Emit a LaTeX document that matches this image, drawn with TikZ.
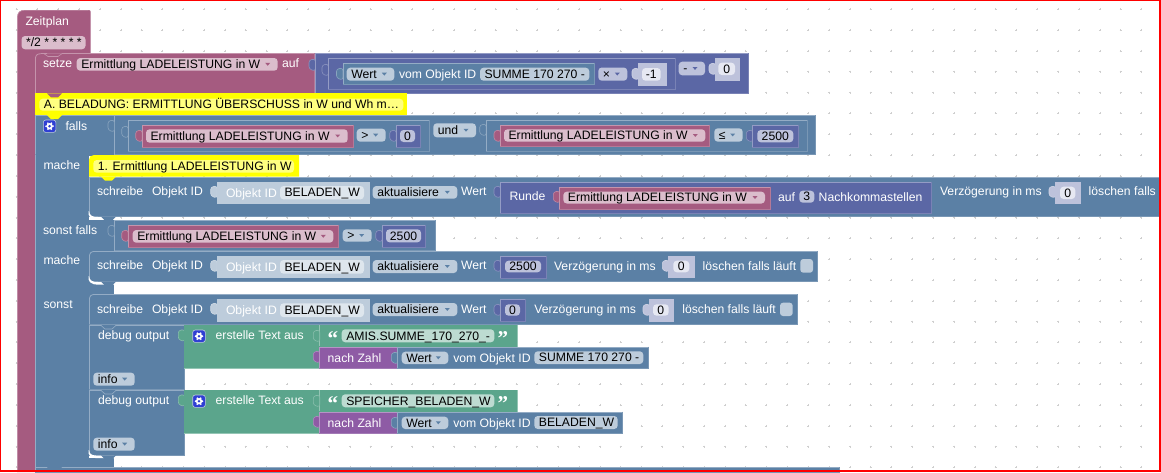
\documentclass[tikz,border=0pt]{standalone}
\usepackage{fontspec}
\setmainfont{Liberation Sans}
\newfontfamily\qfont{Liberation Serif}
\definecolor{plum}{HTML}{A55B80}
\definecolor{bluek}{HTML}{5B80A5}
\definecolor{indg}{HTML}{5B67A5}
\definecolor{grn}{HTML}{5BA58C}
\definecolor{purp}{HTML}{8E5BA5}
\definecolor{yel}{HTML}{FFFF00}
\definecolor{pyel}{HTML}{FFFF80}
\definecolor{pp}{HTML}{DBBDCC}
\definecolor{pb}{HTML}{BDCCDB}
\definecolor{pi}{HTML}{BDC2DB}
\definecolor{pg}{HTML}{BDDBD1}
\definecolor{pil}{HTML}{E6E8F2}
\definecolor{pbl}{HTML}{DEE6ED}
\definecolor{gear}{HTML}{2F3FD3}
\definecolor{gridc}{HTML}{CFCFCF}
\newcount\nid
\tikzset{
  txt/.style={inner sep=0pt,outer sep=0pt,font=\fontsize{12.2}{14}\selectfont},
  wtxt/.style={txt,text=white,anchor=base west},
  dtxt/.style={txt,text=black,anchor=base west},
  ctxt/.style={txt,text=black,anchor=base},
}
% block: x1 y1 x2 y2 colour
\newcommand{\blk}[5]{%
  \fill[#5] (#1,#2) rectangle (#3,#4);
  \draw[#5!65!white,line width=.8pt] ({#1+.4},#4) -- ({#1+.4},{#2+.4}) -- (#3,{#2+.4});
  \draw[#5!82!white,line width=.8pt] ({#3-.4},#2) -- ({#3-.4},{#4-.4}) -- (#1,{#4-.4});
}
% input tab: x yc colour
\newcommand{\tabk}[3]{%
  \filldraw[fill=#3,draw=#3!72!white,line width=.6pt,rounded corners=2.5pt] ({#1+.4},{#2-6}) -- ({#1-6},{#2-5}) -- ({#1-6},{#2+4}) -- ({#1+.4},{#2+6}) -- cycle;
}
% statement notch: x y colour
\newcommand{\notchk}[3]{%
  \fill[#3] (#1,#2) -- ({#1+4},{#2+4}) -- ({#1+11},{#2+4}) -- ({#1+15},#2) -- cycle;
}
% rounded top-left highlight on a statement: x y colour
\newcommand{\cornerk}[3]{%
  \fill[#3] ({#1-.2},{#2-.4}) rectangle ({#1+6},{#2+6});
  \draw[#3!65!white,line width=.8pt] ({#1+.4},{#2+6}) .. controls ({#1+.4},{#2+2}) and ({#1+2},{#2+.4}) .. ({#1+6},{#2+.4});
}
% white text: x yc text
\newcommand{\wlab}[3]{%
  \global\advance\nid by 1
  \node[wtxt] (n\the\nid) at (#1,{#2+4.2}) {#3};
}
% pill, left text: x1 y1 x2 y2 fill text
\newcommand{\pl}[6]{%
  \global\advance\nid by 1
  \fill[#5,rounded corners=3.5pt] (#1,#2) rectangle (#3,#4);
  \node[dtxt] (n\the\nid) at ({#1+4.6},{(#2+#4)/2+4.2}) {#6};
}
% pill, dropdown: x1 y1 x2 y2 fill text arrowcolour
\newcommand{\dd}[7]{%
  \pl{#1}{#2}{#3}{#4}{#5}{#6}
  \fill[#7] ({#3-12.5},{(#2+#4)/2-1.5}) -- ({#3-7.5},{(#2+#4)/2-1.5}) -- ({#3-10},{(#2+#4)/2+1.4}) -- cycle;
}
% pill, centred text
\newcommand{\pc}[6]{%
  \global\advance\nid by 1
  \fill[#5,rounded corners=3.5pt] (#1,#2) rectangle (#3,#4);
  \node[ctxt] (n\the\nid) at ({(#1+#3)/2},{(#2+#4)/2+4.2}) {#6};
}
% gear button: x y (top-left)
\newcommand{\gearbtn}[2]{%
  \filldraw[fill=gear,draw=pb,line width=.6pt,rounded corners=2.5pt] (#1,#2) rectangle ({#1+12.6},{#2+12.4});
  \foreach \a in {0,60,...,300}{\fill[white] ({#1+6.3+3.4*cos(\a)},{#2+6.2+3.4*sin(\a)}) circle (1pt);}
  \fill[white] ({#1+6.3},{#2+6.2}) circle (3.2pt);
  \fill[gear] ({#1+6.3},{#2+6.2}) circle (1.4pt);
}
% Objekt ID shadow + label
\newcommand{\objid}[3]{% y1 y2 (shadow), yc of tab
  \tabk{216.7}{#3}{pb}
  \fill[pb] (216.7,#1) rectangle (370,#2);
  \wlab{226}{(#1+#2)/2}{Objekt ID}
  \pl{280}{#1+4.3}{364}{#2-4.6}{pbl}{BELADEN\_W}
}
% small statement-bottom white strip: y
\newcommand{\stmtend}[2]{%
  \fill[white] (89,#1) .. controls (89.4,{#1+5}) and (93,{#2}) .. (98,{#2}) -- (114,{#2}) -- (114,{#2+2.6}) -- (97,{#2+2.6}) .. controls (92,{#2+2.6}) and (87.5,{#1+6}) .. (88.6,#1) -- cycle;
}
\begin{document}
\begin{tikzpicture}[x=1pt,y=-1pt]
\useasboundingbox (0,0) rectangle (1161,472);
\fill[white] (0,0) rectangle (1161,472);
% grid
\foreach \i in {0,...,55}{\foreach \j in {0,...,22}{
  \draw[gridc,line width=.5pt] ({16.6+20.83*\i-1},{9.2+20.83*\j}) -- ({16.6+20.83*\i+1},{9.2+20.83*\j}) ({16.6+20.83*\i},{9.2+20.83*\j-1}) -- ({16.6+20.83*\i},{9.2+20.83*\j+1});
}}
% ===== Zeitplan hat =====
\fill[plum] (17.3,472) -- (17.3,17) .. controls (17.3,12.5) and (20,10) .. (25,10) -- (88.5,10) .. controls (90,10) and (90.7,10.7) .. (90.7,12) -- (90.7,53.3) -- (35,53.3) -- (35,472) -- cycle;
\draw[plum!72!white,line width=.6pt] (17.6,472) -- (17.6,17) .. controls (17.6,12.5) and (20,10.3) .. (25,10.3) -- (88.5,10.3);
\wlab{25.5}{21}{Zeitplan}
\pl{21.5}{36}{85.5}{49.3}{pp}{*/2 * * * * *}
% ===== next block at the bottom =====
\blk{35}{467}{840}{473}{bluek}
% ===== blue if-column =====
\fill[bluek] (35,115) rectangle (89,467);
\fill[bluek] (89,458) rectangle (114,467);
\fill[bluek] (89,282) rectangle (114,294);
\draw[bluek!65!white,line width=.8pt] (35.4,115) -- (35.4,467);
% ===== setze =====
\blk{35}{53.3}{315}{93.3}{plum}
\cornerk{35}{53.3}{plum}
\notchk{47}{53.3}{plum}
\draw[plum!65!white,line width=.6pt] (44,53.7) -- (48,56.5) -- (58,56.5) -- (62,53.7);
\wlab{43}{63.5}{setze}
\dd{76.7}{58}{277.7}{70.7}{pp}{Ermittlung LADELEISTUNG in W}{plum}
\wlab{282}{63.5}{auf}
% minus block
\tabk{315}{65}{indg}
\blk{315}{53.3}{748.5}{93.3}{indg}
\tabk{328}{70}{indg}
\blk{328}{58.3}{675.3}{89.3}{indg}
\tabk{342.5}{74}{bluek}
\blk{342.5}{62.7}{594.3}{85}{bluek}
\dd{346.7}{67.7}{394.3}{80.7}{pb}{Wert}{bluek}
\wlab{399}{74}{vom Objekt ID}
\pl{480}{67.7}{589.3}{80.7}{pb}{SUMME 170 270 -}
\dd{598.3}{67.5}{627.3}{80.7}{pi}{×}{indg}
\tabk{638}{74}{pi}
\fill[pi] (638,62.7) rectangle (666.7,85.7);
\pc{642}{68}{660.7}{80.7}{pil}{-1}
\dd{678.7}{61.7}{705}{75.3}{pi}{-}{indg}
\tabk{715}{69}{pi}
\fill[pi] (715,57.7) rectangle (740,80.7);
\pc{718.3}{62.7}{735}{75}{pil}{0}
% ===== comment A =====
\fill[yel] (34.7,93.3) rectangle (407.3,115);
\pl{39.3}{98.7}{403.3}{110.7}{pyel}{A. BELADUNG: ERMITTLUNG ÜBERSCHUSS in W und Wh m…}
\notchk{47}{93.3}{plum}
% ===== falls row =====
\blk{35}{115}{815.7}{155}{bluek}
\fill[bluek] (36,153) rectangle (113.9,156);
\notchk{47}{115}{yel}
\gearbtn{43.3}{120}
\wlab{65.5}{126}{falls}
\draw[bluek!65!white,line width=.7pt] (114.3,115) -- (114.3,155);
\tabk{114}{126}{bluek}
\tabk{127.7}{132}{bluek}
\blk{127.7}{120}{429.5}{151.7}{bluek}
\tabk{141.7}{136}{plum}
\blk{141.7}{125}{353.3}{147.3}{plum}
\dd{146}{129.3}{347.7}{142.7}{pp}{Ermittlung LADELEISTUNG in W}{plum}
\dd{356.7}{128.7}{385.7}{141.7}{pb}{>}{bluek}
\tabk{395.7}{136}{indg}
\blk{395.7}{125}{420.7}{147.5}{indg}
\pc{400}{130}{415}{142}{pi}{0}
\dd{433.3}{123.3}{476}{137.3}{pb}{und}{bluek}
\tabk{485.7}{130}{bluek}
\blk{485.7}{120}{807.3}{151.7}{bluek}
\tabk{500}{136}{plum}
\blk{500}{125}{710}{146.7}{plum}
\dd{504}{129.3}{705.3}{141.7}{pp}{Ermittlung LADELEISTUNG in W}{plum}
\dd{714.3}{128.3}{742.7}{141.7}{pb}{≤}{bluek}
\tabk{752.3}{136}{indg}
\blk{752.3}{125}{798.3}{147.3}{indg}
\pc{757.3}{130}{793.3}{142.3}{pi}{2500}
\wlab{43.5}{165}{mache}
% ===== comment 1 =====
\fill[yel] (89,176.7) -- (89,160) .. controls (89,157) and (91,155) .. (94,155) -- (299,155) -- (299,176.7) -- cycle;
\pl{93.3}{160}{294}{172.7}{pyel}{1. Ermittlung LADELEISTUNG in W}
% ===== schreibe 1 =====
\blk{89}{176.7}{1161}{216.7}{bluek}
\notchk{101}{176.7}{yel}
\wlab{97}{191.7}{schreibe}
\wlab{152}{191.7}{Objekt ID}
\objid{181.7}{204}{192}
\dd{372.7}{186}{457.3}{198.7}{pb}{aktualisiere}{bluek}
\wlab{461}{191.7}{Wert}
\tabk{500}{192}{indg}
\blk{500}{181.7}{931.7}{213.3}{indg}
\wlab{509.5}{196.7}{Runde}
\tabk{559.3}{197}{plum}
\blk{559.3}{186.7}{770.7}{209.3}{plum}
\dd{563.3}{191.7}{765}{203.5}{pp}{Ermittlung LADELEISTUNG in W}{plum}
\wlab{778}{197}{auf}
\pc{799.3}{190.7}{814.3}{202.7}{pi}{3}
\wlab{818.7}{197}{Nachkommastellen}
\wlab{940}{191.7}{Verzögerung in ms}
\tabk{1055}{192}{pi}
\fill[pi] (1055,181.7) rectangle (1081,204);
\pc{1060}{186.7}{1075.3}{199}{pil}{0}
\wlab{1088.7}{191.7}{löschen falls}
\stmtend{211}{217}
% ===== sonst falls =====
\blk{89}{220}{436}{251}{bluek}
\fill[bluek] (89,219.6) rectangle (114,251);
\notchk{101}{216.7}{bluek}
\draw[bluek!65!white,line width=.7pt] (114.3,220) -- (114.3,251);
\wlab{43}{230.7}{sonst falls}
\tabk{114}{231}{bluek}
\tabk{127.7}{236}{plum}
\blk{127.7}{225}{339}{247.3}{plum}
\dd{132.7}{230}{333.3}{242.7}{pp}{Ermittlung LADELEISTUNG in W}{plum}
\dd{342.7}{229.3}{371.7}{241.7}{pb}{>}{bluek}
\tabk{381.7}{236}{indg}
\blk{381.7}{225}{426}{247.3}{indg}
\pc{386}{229.3}{421}{242.3}{pi}{2500}
% ===== mache 2 =====
\wlab{43.5}{260.7}{mache}
\blk{89}{251}{817.7}{281.7}{bluek}
\cornerk{89}{251}{bluek}
\wlab{97}{265.7}{schreibe}
\wlab{152}{265.7}{Objekt ID}
\objid{255.7}{278.3}{266}
\dd{372.7}{260}{457.3}{273}{pb}{aktualisiere}{bluek}
\wlab{461}{265.7}{Wert}
\tabk{500}{266}{indg}
\blk{500}{255.7}{546.7}{278.3}{indg}
\pc{505}{260.7}{541}{272.3}{pi}{2500}
\wlab{554}{266}{Verzögerung in ms}
\tabk{668.3}{266}{pi}
\fill[pi] (668.3,255.7) rectangle (695,278.3);
\pc{673.3}{260.7}{689.3}{272.3}{pil}{0}
\wlab{702.7}{266}{löschen falls läuft}
\fill[pb,rounded corners=3pt] (800.3,259) rectangle (813,272.7);
\stmtend{276}{282}
\notchk{101}{281.7}{bluek}
% ===== sonst =====
\wlab{43.5}{304}{sonst}
\blk{89}{294}{797.5}{325}{bluek}
\cornerk{89}{294}{bluek}
\wlab{97}{309}{schreibe}
\wlab{152}{309}{Objekt ID}
\objid{299}{321.7}{309}
\dd{372.7}{303}{457.3}{316}{pb}{aktualisiere}{bluek}
\wlab{461}{309}{Wert}
\tabk{500}{310}{indg}
\blk{500}{299}{526}{321.7}{indg}
\pc{505}{304.3}{520}{315.7}{pi}{0}
\wlab{534.3}{309}{Verzögerung in ms}
\tabk{649}{310}{pi}
\fill[pi] (649,299) rectangle (674.3,321.7);
\pc{653}{304.3}{668.7}{315.7}{pil}{0}
\wlab{682.3}{309}{löschen falls läuft}
\fill[pb,rounded corners=3pt] (780,302.7) rectangle (792.7,316);
% ===== debug 1 =====
\blk{89}{325}{184.3}{390}{bluek}
\notchk{101}{325}{bluek}
\draw[bluek!65!white,line width=.6pt] (101,325.4) -- (105,329) -- (112,329) -- (116,325.4);
\wlab{98}{335.7}{debug output}
\dd{93.3}{372.7}{134.7}{385.7}{pb}{info}{bluek}
\tabk{184.3}{335.5}{grn}
\fill[grn] (184.3,325) rectangle (517.3,368.5);
\draw[grn!65!white,line width=.8pt] (184.3,368.3) -- (319,368.3) (319.3,325) -- (319.3,346);
\draw[grn!65!white,line width=.7pt] (517,325) -- (517,346.5);
\gearbtn{192.7}{330}
\wlab{215.7}{335.7}{erstelle Text aus}
\tabk{319.3}{336}{grn}
\global\advance\nid by 1
\node[txt,text=white,anchor=base west,font=\qfont\bfseries\fontsize{21}{21}\selectfont] (n\the\nid) at (327.5,345) {“};
\pl{341.7}{329.3}{494.3}{342.3}{pg}{AMIS.SUMME\_170\_270\_-}
\global\advance\nid by 1
\node[txt,text=white,anchor=base west,font=\qfont\bfseries\fontsize{21}{21}\selectfont] (n\the\nid) at (497.5,345) {”};
\tabk{319.3}{357}{purp}
\blk{319.3}{346.7}{397.3}{368.5}{purp}
\wlab{327.7}{358}{nach Zahl}
\tabk{397.3}{358}{bluek}
\blk{397.3}{346.7}{648.3}{368.5}{bluek}
\dd{401.7}{351.7}{448.3}{364}{pb}{Wert}{bluek}
\wlab{453.3}{358}{vom Objekt ID}
\pl{534.3}{351.3}{643.3}{364}{pb}{SUMME 170 270 -}
% ===== debug 2 =====
\blk{89}{390}{184.3}{455.3}{bluek}
\notchk{101}{390}{bluek}
\draw[bluek!65!white,line width=.6pt] (101,390.4) -- (105,394) -- (112,394) -- (116,390.4);
\wlab{98}{400.7}{debug output}
\dd{93.3}{437.7}{134.7}{450.7}{pb}{info}{bluek}
\tabk{184.3}{400.5}{grn}
\fill[grn] (184.3,390) rectangle (517.7,433.5);
\draw[grn!65!white,line width=.8pt] (184.3,433.3) -- (319,433.3) (319.3,390) -- (319.3,411);
\draw[grn!65!white,line width=.7pt] (517.4,390) -- (517.4,411.5);
\gearbtn{192.7}{395}
\wlab{215.7}{400.7}{erstelle Text aus}
\tabk{319.3}{401}{grn}
\global\advance\nid by 1
\node[txt,text=white,anchor=base west,font=\qfont\bfseries\fontsize{21}{21}\selectfont] (n\the\nid) at (327.5,410) {“};
\pl{341.7}{394.3}{494.3}{407.3}{pg}{SPEICHER\_BELADEN\_W}
\global\advance\nid by 1
\node[txt,text=white,anchor=base west,font=\qfont\bfseries\fontsize{21}{21}\selectfont] (n\the\nid) at (497.5,410) {”};
\tabk{319.3}{422}{purp}
\blk{319.3}{411.7}{397.3}{433.5}{purp}
\wlab{327.7}{423}{nach Zahl}
\tabk{397.3}{423}{bluek}
\blk{397.3}{411.7}{622.7}{433.5}{bluek}
\dd{401.7}{416.7}{448.3}{429}{pb}{Wert}{bluek}
\wlab{453.3}{423}{vom Objekt ID}
\pl{534.3}{416}{617.7}{429}{pb}{BELADEN\_W}
\stmtend{450}{455.6}
\notchk{101}{455.3}{bluek}
\notchk{47}{467}{bluek}
% ===== window frame =====
\draw[red,line width=1.5pt] (.5,.5) rectangle (1160.2,471);
\end{tikzpicture}
\end{document}
